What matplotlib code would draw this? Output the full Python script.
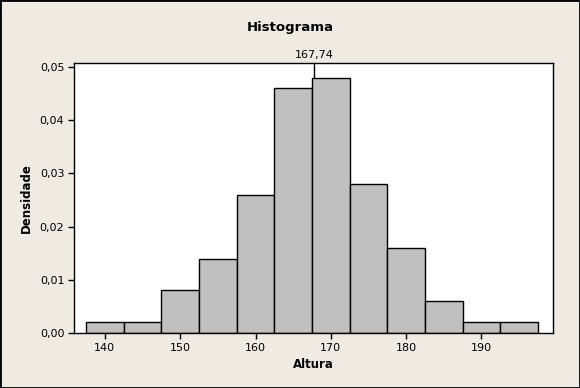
import matplotlib
matplotlib.use("Agg")
import matplotlib.pyplot as plt
from matplotlib.patches import Rectangle
import numpy as np

bin_centers = [140, 145, 150, 155, 160, 165, 170, 175, 180, 185, 190, 195]
densities = [0.002, 0.002, 0.008, 0.014, 0.026, 0.046, 0.048, 0.028, 0.016, 0.006, 0.002, 0.002]
bin_width = 5
mean_value = 167.74
mean_label = "167,74"
x_ticks = [140, 150, 160, 170, 180, 190]
y_ticks = [0.0, 0.01, 0.02, 0.03, 0.04, 0.05]
y_tick_labels = ["0,00", "0,01", "0,02", "0,03", "0,04", "0,05"]

bg = "#F0EBE2"
plt.rcParams['font.family'] = ['DejaVu Sans']

fig = plt.figure(figsize=(5.8, 3.88), dpi=100, facecolor=bg)
W, H = 580, 388
left, right, top, bottom = 74, 553, 63, 333
ax = fig.add_axes([left / W, 1 - bottom / H, (right - left) / W, (bottom - top) / H])
ax.set_facecolor("white")

ax.axvline(mean_value, color="black", lw=1, zorder=1)
ax.bar(bin_centers, densities, width=bin_width, color="#C0C0C0", edgecolor="black", lw=1, zorder=2)

ax.set_xlim(135.9, 199.5)
ax.set_ylim(0, 0.05075)
ax.set_xticks(x_ticks)
ax.set_xticklabels([str(t) for t in x_ticks])
ax.set_yticks(y_ticks)
ax.set_yticklabels(y_tick_labels)
ax.tick_params(direction="out", length=4, width=1, labelsize=8, pad=3)
for s in ax.spines.values():
    s.set_linewidth(1)

ax.text(mean_value, 1.01, mean_label, transform=ax.get_xaxis_transform(), ha="center", va="bottom", fontsize=8)

ax.set_xlabel("Altura", fontsize=8.5, fontweight="bold", labelpad=4)
ax.set_ylabel("Densidade", fontsize=8.5, fontweight="bold", labelpad=5)
fig.text(0.5, 1 - 27 / H, "Histograma", ha="center", va="center", fontsize=9.5, fontweight="bold")

fig.patches.append(Rectangle((0, 0), 1, 1, transform=fig.transFigure, fill=False, edgecolor="black", lw=2, zorder=10))

fig.savefig("out.png", dpi=100, facecolor=bg)
